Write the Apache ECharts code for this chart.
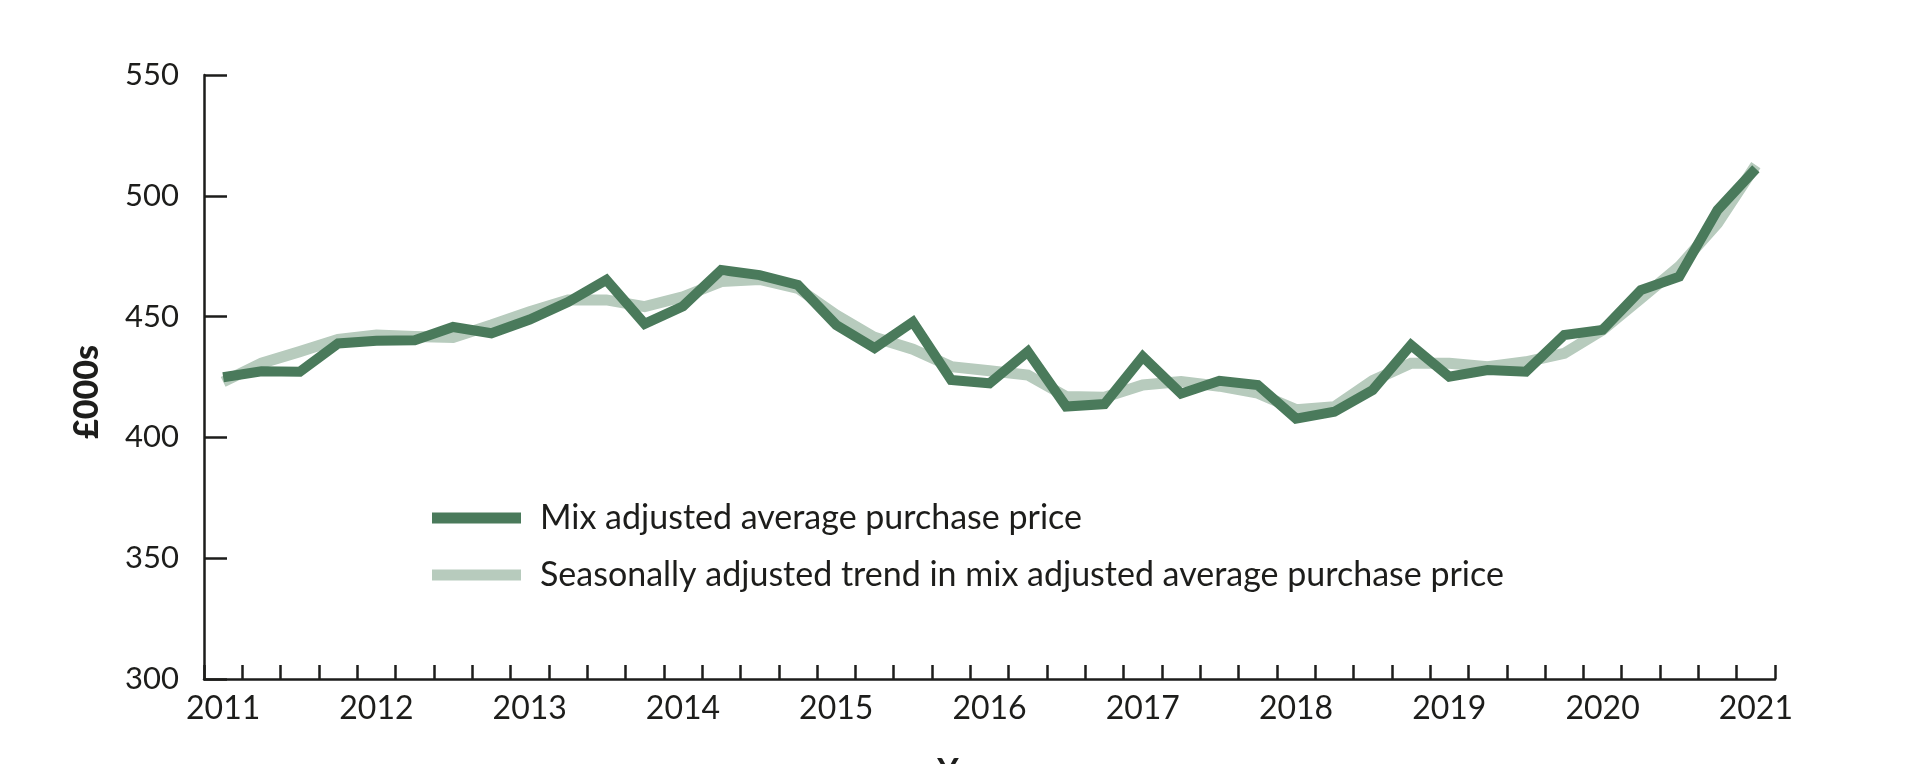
<!DOCTYPE html>
<html>
<head>
<meta charset="utf-8">
<script src="https://cdn.jsdelivr.net/npm/echarts@6/dist/echarts.min.js"></script>
<style>
  html, body { margin: 0; padding: 0; background: #ffffff; }
  #chart { width: 1924px; height: 764px; }
</style>
</head>
<body>
<div id="chart"></div>
<script>
// Quarterly categories 2011 Q1 .. 2021 Q1
const years = ['2011','2012','2013','2014','2015','2016','2017','2018','2019','2020','2021'];
const quarters = [];
years.forEach(function (y) {
  ['Q1','Q2','Q3','Q4'].forEach(function (q) {
    if (y !== '2021' || q === 'Q1') quarters.push(y + ' ' + q);
  });
});

// Mix adjusted average purchase price (£000s)
const mixAdjusted = [
  424.9, 427.4, 427.2, 438.9, 440.0, 440.2, 445.7, 443.1, 448.8, 456.0,
  465.2, 447.0, 454.3, 469.3, 467.2, 463.1, 446.5, 437.0, 447.8, 423.8,
  422.4, 435.5, 412.8, 413.8, 433.4, 418.1, 423.4, 421.7, 407.8, 410.6,
  419.6, 438.2, 425.1, 427.9, 427.2, 442.4, 444.5, 461.0, 466.5, 494.1,
  511.2
];

// Seasonally adjusted trend in mix adjusted average purchase price (£000s)
const saTrend = [
  423.0, 430.7, 435.5, 440.6, 442.4, 441.8, 441.4, 446.5, 452.0, 456.9,
  456.9, 454.1, 458.2, 464.5, 465.4, 461.7, 450.7, 441.4, 436.5, 429.3,
  427.6, 425.8, 416.9, 416.6, 421.7, 423.1, 421.2, 418.3, 411.5, 412.7,
  423.5, 430.7, 430.7, 429.3, 431.3, 434.8, 444.5, 457.5, 470.7, 488.6,
  512.7
];

const seriesNames = [
  'Mix adjusted average purchase price',
  'Seasonally adjusted trend in mix adjusted average purchase price'
];
const yTitle = '£000s';
const xTitle = 'Year';

const darkGreen = '#4a7a5b';
const lightGreen = '#b7cbbd';
const ink = '#1d1d1b';
const fontFamily = 'Lato, "Open Sans", "Noto Sans", sans-serif';

const chart = echarts.init(document.getElementById('chart'), null, { renderer: 'canvas' });

chart.setOption({
  animation: false,
  backgroundColor: '#ffffff',
  grid: { left: 204, right: 149, top: 75, bottom: 85, containLabel: false, outerBoundsMode: 'none' },
  legend: {
    orient: 'vertical',
    left: 427,
    top: 493,
    icon: 'rect',
    itemWidth: 89,
    itemHeight: 11,
    itemGap: 17,
    data: [seriesNames[0], seriesNames[1]],
    textStyle: {
      fontFamily: fontFamily,
      fontSize: 34,
      color: ink,
      lineHeight: 40,
      padding: [0, 0, 0, 14]
    }
  },
  xAxis: {
    type: 'category',
    data: quarters,
    boundaryGap: true,
    name: xTitle,
    nameLocation: 'middle',
    nameGap: 76,
    nameTextStyle: { fontFamily: fontFamily, fontSize: 33, fontWeight: 'bold', color: ink, padding: [0, 40, 0, 0] },
    axisLine: { show: true, lineStyle: { color: ink, width: 2.5 } },
    axisTick: { show: true, inside: true, length: 14, interval: 0, lineStyle: { color: ink, width: 2.5 } },
    axisLabel: {
      interval: 3,
      margin: 14,
      fontFamily: fontFamily,
      fontSize: 32,
      color: ink,
      formatter: function (v) { return v.split(' ')[0]; }
    },
    splitLine: { show: false }
  },
  yAxis: {
    type: 'value',
    min: 300,
    max: 550,
    interval: 50,
    axisLine: { show: true, lineStyle: { color: ink, width: 2.5 } },
    axisTick: { show: true, inside: true, length: 23, lineStyle: { color: ink, width: 2.5 } },
    axisLabel: { margin: 25, fontFamily: fontFamily, fontSize: 31, color: ink },
    splitLine: { show: false }
  },
  graphic: [{
    type: 'text',
    x: 87,
    y: 392,
    rotation: Math.PI / 2,
    style: {
      text: yTitle,
      fontFamily: fontFamily,
      fontSize: 34,
      fontWeight: 900,
      fill: ink,
      align: 'center',
      verticalAlign: 'middle'
    }
  }],
  series: [
    {
      name: seriesNames[1],
      type: 'line',
      data: saTrend,
      z: 2,
      symbol: 'none',
      showSymbol: false,
      lineStyle: { color: lightGreen, width: 11, cap: 'butt', join: 'miter' },
      itemStyle: { color: lightGreen }
    },
    {
      name: seriesNames[0],
      type: 'line',
      data: mixAdjusted,
      z: 3,
      symbol: 'none',
      showSymbol: false,
      lineStyle: { color: darkGreen, width: 10, cap: 'butt', join: 'miter' },
      itemStyle: { color: darkGreen }
    }
  ]
});
</script>
</body>
</html>
